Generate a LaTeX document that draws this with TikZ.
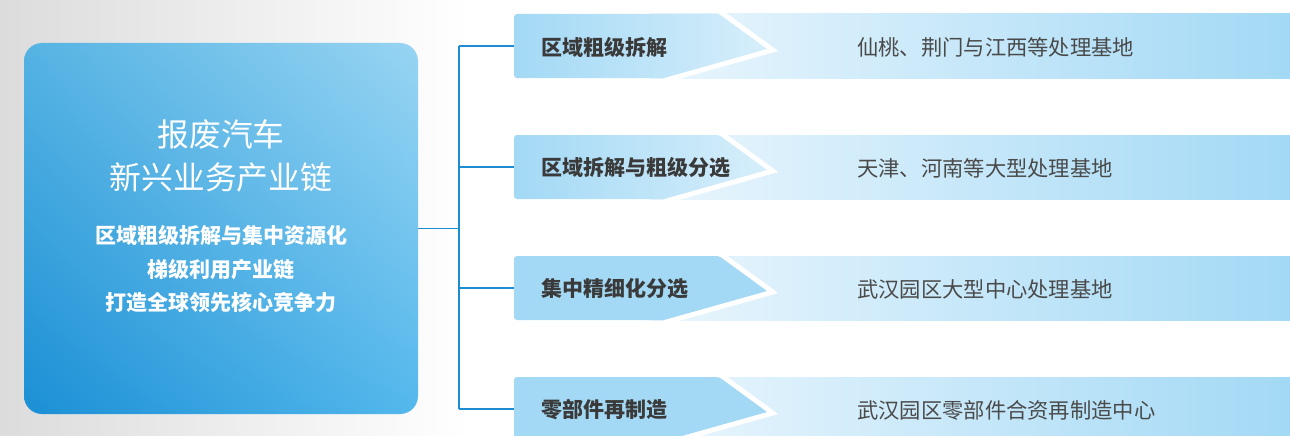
\documentclass[tikz,border=0pt]{standalone}
\usepackage{fontspec}
\usetikzlibrary{shadings}
\newfontfamily\cjk{Noto Sans CJK SC}
\definecolor{bggray}{HTML}{DCDCDC}
\definecolor{lineblue}{HTML}{1E8CD2}
\definecolor{labelgray}{HTML}{3A3A3A}
\definecolor{textgray}{HTML}{4A4A4A}
\definecolor{barblue}{HTML}{A3D9F5}
\definecolor{barlight}{HTML}{EAF6FD}
\definecolor{chevlight}{HTML}{D6EEFB}
\definecolor{boxul}{HTML}{55B3E3}
\definecolor{boxur}{HTML}{98D4F2}
\definecolor{boxll}{HTML}{1B8FD5}
\definecolor{boxlr}{HTML}{54B8EC}
\tikzset{
  mainbox/.style={rounded corners=18pt, minimum width=394pt, minimum height=371pt, inner sep=0pt,
    upper left=boxul, upper right=boxur, lower left=boxll, lower right=boxlr},
  titletext/.style={text=white, align=center, inner sep=0pt, font=\cjk\fontsize{31.8}{43}\selectfont},
  subtext/.style={text=white, align=center, inner sep=0pt, font=\cjk\bfseries\fontsize{21}{33.5}\selectfont},
  barlabel/.style={anchor=west, inner sep=0pt, text=labelgray, font=\cjk\bfseries\fontsize{21}{24}\selectfont},
  bardesc/.style={anchor=west, inner sep=0pt, text=textgray, font=\cjk\fontsize{21.3}{24}\selectfont},
  conn/.style={draw=lineblue, line width=1.5pt}
}
\begin{document}
\begin{tikzpicture}[x=1pt,y=-1pt]
\useasboundingbox (0,0) rectangle (1290,436);
\shade[left color=bggray, right color=white] (0,0) rectangle (470,436);
\node[mainbox] (main) at (221,228.5) {};
\node[titletext] (title) at (221,156) {报废汽车\\新兴业务产业链};
\node[subtext] (sub) at (221,269.5) {区域粗级拆解与集中资源化\\梯级利用产业链\\打造全球领先核心竞争力};
\foreach \i/\t/\cr/\lab/\txt in {
  1/14/chevlight/区域粗级拆解/仙桃、荆门与江西等处理基地,
  2/135/chevlight/区域拆解与粗级分选/天津、河南等大型处理基地,
  3/256/barblue/集中精细化分选/武汉园区大型中心处理基地,
  4/377/barblue/零部件再制造/武汉园区零部件合资再制造中心}{
  \shade[left color=barlight, right color=barblue] (650,\t) rectangle (1290,\t+64);
  \draw[white, line width=10pt, miter limit=10] (719,\t) -- (767,\t+35) -- (664,\t+64);
  \shade[left color=barblue, right color=\cr, rounded corners=3pt] (664,\t+64) -- (514,\t+64) -- (514,\t) -- (719,\t) [sharp corners] -- (767,\t+35) -- cycle;
  \coordinate (b\i) at (514,\t+32);
  \node[barlabel] (l\i) at (541,\t+33) {\lab};
  \node[bardesc] (d\i) at (857,\t+33) {\txt};
}
\coordinate (jt) at (459,46);
\coordinate (jb) at (459,409);
\draw[conn] (jt) -- (jb);
\draw[conn] (main.east) -- (main.east -| jt);
\foreach \i in {1,...,4} \draw[conn] (b\i -| jt) -- (b\i);
\end{tikzpicture}
\end{document}
